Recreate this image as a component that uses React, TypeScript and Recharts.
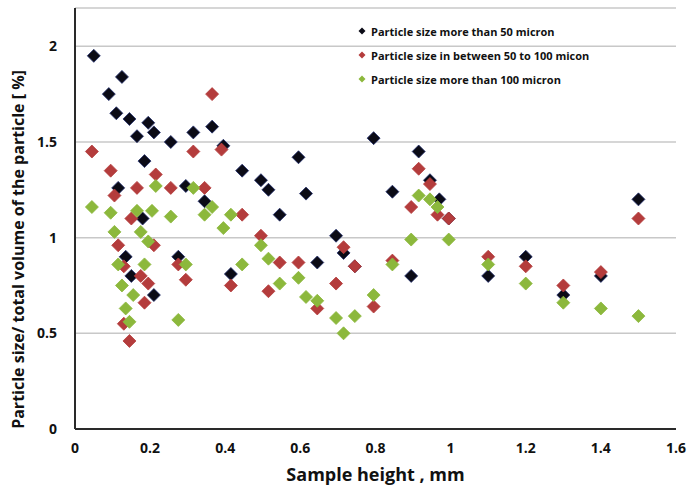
import { ScatterChart, Scatter, XAxis, YAxis, CartesianGrid } from "recharts";

// sample height (mm) and particle share (%) for each size class
const over50Heights = [0.05, 0.09, 0.11, 0.125, 0.115, 0.135, 0.15, 0.145, 0.165, 0.18, 0.185, 0.195, 0.21, 0.21, 0.255, 0.275, 0.295, 0.315, 0.345, 0.365, 0.395, 0.415, 0.445, 0.495, 0.515, 0.545, 0.595, 0.615, 0.645, 0.695, 0.715, 0.745, 0.795, 0.845, 0.895, 0.915, 0.945, 0.97, 0.995, 1.1, 1.2, 1.3, 1.4, 1.5];
const over50Values = [1.95, 1.75, 1.65, 1.84, 1.26, 0.9, 0.8, 1.62, 1.53, 1.1, 1.4, 1.6, 0.7, 1.55, 1.5, 0.9, 1.27, 1.55, 1.19, 1.58, 1.48, 0.81, 1.35, 1.3, 1.25, 1.12, 1.42, 1.23, 0.87, 1.01, 0.92, 0.85, 1.52, 1.24, 0.8, 1.45, 1.3, 1.2, 1.1, 0.8, 0.9, 0.7, 0.8, 1.2];

const between50to100Heights = [0.045, 0.095, 0.105, 0.115, 0.13, 0.13, 0.145, 0.15, 0.165, 0.175, 0.185, 0.195, 0.21, 0.215, 0.255, 0.275, 0.295, 0.315, 0.345, 0.365, 0.39, 0.415, 0.445, 0.495, 0.515, 0.545, 0.595, 0.645, 0.695, 0.715, 0.745, 0.795, 0.845, 0.895, 0.915, 0.945, 0.965, 0.995, 1.1, 1.2, 1.3, 1.4, 1.5];
const between50to100Values = [1.45, 1.35, 1.22, 0.96, 0.85, 0.55, 0.46, 1.1, 1.26, 0.8, 0.66, 0.76, 0.96, 1.33, 1.26, 0.86, 0.78, 1.45, 1.26, 1.75, 1.46, 0.75, 1.12, 1.01, 0.72, 0.87, 0.87, 0.63, 0.76, 0.95, 0.85, 0.64, 0.88, 1.16, 1.36, 1.28, 1.12, 1.1, 0.9, 0.85, 0.75, 0.82, 1.1];

const over100Heights = [0.045, 0.095, 0.105, 0.115, 0.125, 0.135, 0.145, 0.155, 0.165, 0.175, 0.185, 0.195, 0.205, 0.215, 0.255, 0.275, 0.295, 0.315, 0.345, 0.365, 0.395, 0.415, 0.445, 0.495, 0.515, 0.545, 0.595, 0.615, 0.645, 0.695, 0.715, 0.745, 0.795, 0.845, 0.895, 0.915, 0.945, 0.965, 0.995, 1.1, 1.2, 1.3, 1.4, 1.5];
const over100Values = [1.16, 1.13, 1.03, 0.86, 0.75, 0.63, 0.56, 0.7, 1.14, 1.03, 0.86, 0.98, 1.14, 1.27, 1.11, 0.57, 0.86, 1.26, 1.12, 1.16, 1.05, 1.12, 0.86, 0.96, 0.89, 0.76, 0.79, 0.69, 0.67, 0.58, 0.5, 0.59, 0.7, 0.86, 0.99, 1.22, 1.2, 1.16, 0.99, 0.86, 0.76, 0.66, 0.63, 0.59];

const seriesNames = [
  "Particle size more than 50 micron",
  "Particle size in between 50 to 100 micon",
  "Particle size more than 100 micron",
];
const seriesColors = ["#0b0b16", "#b43c3c", "#8cb83c"];

const xTicks = [0, 0.2, 0.4, 0.6, 0.8, 1, 1.2, 1.4, 1.6];
const yTicks = [0, 0.5, 1, 1.5, 2];

const toPoints = (xs: number[], ys: number[]) => xs.map((x, i) => ({ x, y: ys[i] }));

const series = [
  toPoints(over50Heights, over50Values),
  toPoints(between50to100Heights, between50to100Values),
  toPoints(over100Heights, over100Values),
];

const FONT = "'Open Sans', sans-serif";
const FRAME = "#2a2a2a";

function Diamond(color: string, r: number) {
  return (props: any) => {
    const { cx, cy } = props;
    if (cx == null || cy == null) return null;
    return (
      <polygon
        points={`${cx},${cy - r} ${cx + r},${cy} ${cx},${cy + r} ${cx - r},${cy}`}
        fill={color}
        stroke={color === seriesColors[0] ? "#23306e" : color}
        strokeWidth={0.8}
      />
    );
  };
}

function YLabel(props: any) {
  const vb = props.viewBox || { x: 0, y: 8, width: 75, height: 421 };
  const cx = 18;
  const cy = vb.y + vb.height / 2 + 31;
  return (
    <text
      x={cx}
      y={cy}
      transform={`rotate(-90, ${cx}, ${cy})`}
      textAnchor="middle"
      dominantBaseline="central"
      style={{ fill: "#111", fontSize: 16, fontWeight: 700, fontFamily: FONT }}
    >
      Particle size/ total volume of the particle  [ %]
    </text>
  );
}

function LegendBox() {
  return (
    <div
      style={{
        position: "absolute",
        left: 356,
        top: 19,
        fontFamily: FONT,
        fontWeight: 700,
        fontSize: 11,
        color: "#111",
        pointerEvents: "none",
      }}
    >
      {seriesNames.map((name, i) => (
        <div key={name} style={{ display: "flex", alignItems: "center", height: 24 }}>
          <svg width={12} height={10} style={{ marginRight: 3 }}>
            <polygon points="6,1.5 9.5,5 6,8.5 2.5,5" fill={seriesColors[i]} />
          </svg>
          <span>{name}</span>
        </div>
      ))}
    </div>
  );
}

export default function App() {
  return (
    <div style={{ position: "absolute", left: 0, top: 0, width: 689, height: 489, background: "#fff" }}>
      <ScatterChart width={689} height={489} margin={{ top: 8, right: 13, bottom: 0, left: 0 }}>
        <CartesianGrid horizontal vertical={false} stroke="#c8c8c8" strokeWidth={1.5} />
        <XAxis
          type="number"
          dataKey="x"
          domain={[0, 1.6]}
          ticks={xTicks}
          height={60}
          axisLine={{ stroke: FRAME, strokeWidth: 2 }}
          tickLine={false}
          tick={{ fill: "#111", fontSize: 14, fontWeight: 700, fontFamily: FONT }}
          tickMargin={8}
          label={{
            value: "Sample height , mm",
            position: "insideBottom",
            offset: 8,
            style: { fill: "#111", fontSize: 18, fontWeight: 700, fontFamily: FONT },
          }}
        />
        <XAxis
          xAxisId="top"
          orientation="top"
          type="number"
          dataKey="x"
          domain={[0, 1.6]}
          height={0}
          tick={false}
          tickLine={false}
          axisLine={{ stroke: FRAME, strokeWidth: 2 }}
        />
        <YAxis
          type="number"
          dataKey="y"
          domain={[0, 2.2]}
          ticks={yTicks}
          width={75}
          axisLine={{ stroke: FRAME, strokeWidth: 2 }}
          tickLine={false}
          tick={{ fill: "#111", fontSize: 14, fontWeight: 700, fontFamily: FONT }}
          tickMargin={12}
          label={<YLabel />}
        />
        <YAxis
          yAxisId="right"
          orientation="right"
          type="number"
          dataKey="y"
          domain={[0, 2.2]}
          width={0}
          tick={false}
          tickLine={false}
          axisLine={{ stroke: FRAME, strokeWidth: 2 }}
        />
        {series.map((pts, i) => (
          <Scatter
            key={seriesNames[i]}
            name={seriesNames[i]}
            data={pts}
            fill={seriesColors[i]}
            shape={Diamond(seriesColors[i], 6.5)}
            isAnimationActive={false}
          />
        ))}
      </ScatterChart>
      <LegendBox />
    </div>
  );
}
